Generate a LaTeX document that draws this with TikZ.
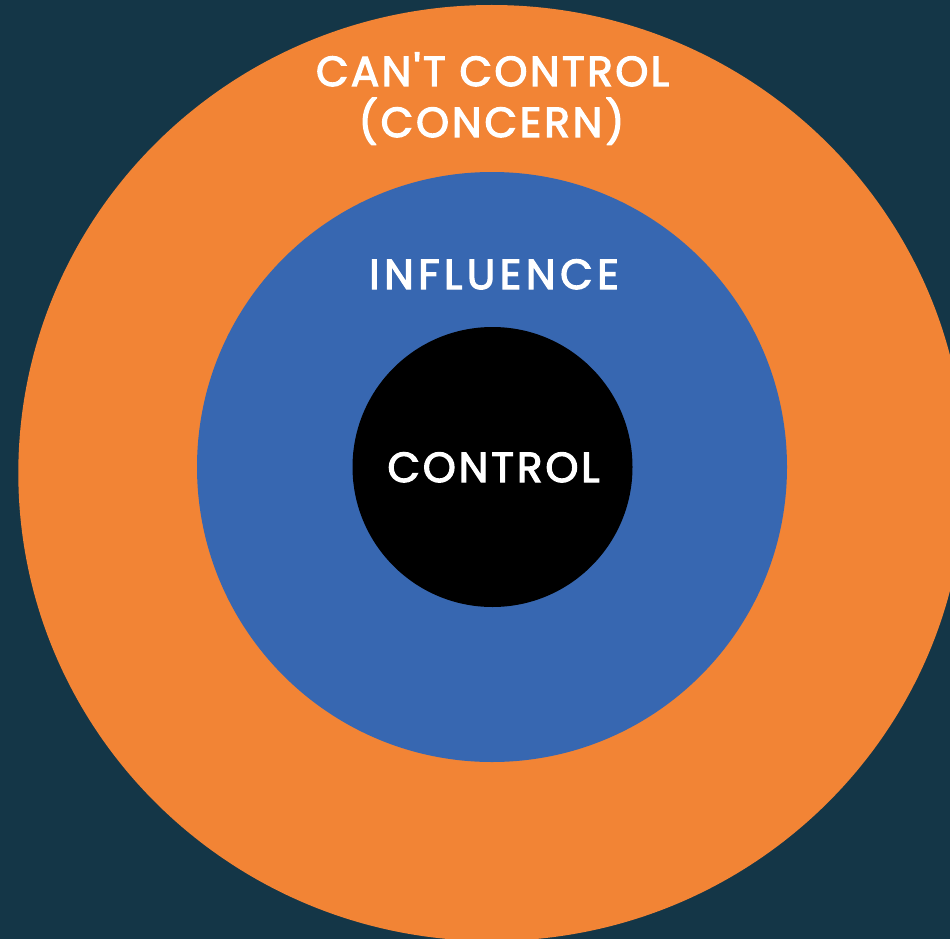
\documentclass[tikz,border=0pt]{standalone}
\usepackage{fontspec}
\newfontfamily\lblfont{Poppins}[Ligatures=TeXOff,LetterSpace=7,FakeBold=3]
\newfontfamily\lblfontcant{Poppins}[Ligatures=TeXOff,LetterSpace=6,FakeBold=3]
\newfontfamily\lblfontwide{Poppins}[Ligatures=TeXOff,LetterSpace=11,FakeBold=3]
\definecolor{bgteal}{RGB}{20,54,71}
\definecolor{ringorange}{RGB}{242,132,53}
\definecolor{ringblue}{RGB}{55,103,177}
\begin{document}
\begin{tikzpicture}[x=1pt,y=-1pt,
  lbl/.style={text=white,font=\lblfont\fontsize{42}{48}\selectfont,anchor=base,inner sep=0pt}]
\useasboundingbox (0,0) rectangle (950,939);
\clip (0,0) rectangle (950,939);
\fill[bgteal] (0,0) rectangle (950,939);
\fill[ringorange] (491.7,473) ellipse [x radius=473.4pt, y radius=468pt];
\fill[ringblue] (492,467) circle [radius=295pt];
\fill[black] (492.5,467) circle [radius=140pt];
\node[lbl,font=\lblfontcant\fontsize{42}{48}\selectfont] (cant) at (492.5,86) {CAN'T CONTROL};
\node[lbl] (concern) at (491.5,137) {(CONCERN)};
\node[lbl,font=\lblfontwide\fontsize{42}{48}\selectfont] (influence) at (494,289) {INFLUENCE};
\node[lbl] (control) at (493.5,482) {CONTROL};
\end{tikzpicture}
\end{document}
